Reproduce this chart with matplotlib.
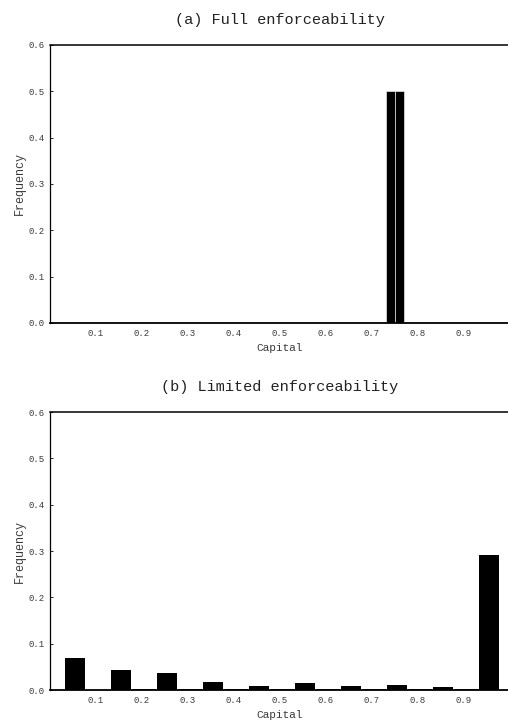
import matplotlib
matplotlib.use("Agg")
import matplotlib.pyplot as plt

# panel (a): full enforceability
full_left = [0.730, 0.750]
full_freq = [0.50, 0.50]

# panel (b): limited enforceability, main bins
lim_centers = [0.055, 0.155, 0.255, 0.355, 0.455, 0.555, 0.655, 0.755, 0.855, 0.955]
lim_freq = [0.070, 0.043, 0.037, 0.017, 0.009, 0.016, 0.008, 0.011, 0.006, 0.292]
# small in-between bins
mid_centers = [0.105, 0.205, 0.305, 0.405, 0.505, 0.605, 0.705, 0.805, 0.905]
mid_freq = [0.000, 0.002, 0.002, 0.002, 0.002, 0.002, 0.002, 0.002, 0.003]

xticks = [0.1, 0.2, 0.3, 0.4, 0.5, 0.6, 0.7, 0.8, 0.9]
yticks = [0.0, 0.1, 0.2, 0.3, 0.4, 0.5, 0.6]

mono = "Liberation Mono"
txt = "#3a3a3a"

fig = plt.figure(figsize=(5.08, 7.23), dpi=100)
ax1 = fig.add_axes([0.0984, 0.5533, 0.905, 0.3845])
ax2 = fig.add_axes([0.0984, 0.0456, 0.905, 0.3845])


def style(ax, title):
    ax.set_xlim(0, 1.0)
    ax.set_ylim(0, 0.6)
    ax.set_xticks(xticks)
    ax.set_xticklabels([f"{t:.1f}" for t in xticks], fontsize=6.5, family=mono, color=txt)
    ax.set_yticks(yticks)
    ax.set_yticklabels([f"{t:.1f}" for t in yticks], fontsize=6.5, family=mono, color=txt)
    ax.tick_params(axis="x", length=0, pad=4)
    ax.tick_params(axis="y", direction="in", length=2, width=0.6, pad=4)
    ax.spines["right"].set_visible(False)
    ax.spines["left"].set_linewidth(0.9)
    ax.spines["top"].set_linewidth(1.1)
    ax.spines["bottom"].set_linewidth(1.3)
    ax.set_xlabel("Capital", fontsize=8, family=mono, color=txt, labelpad=4)
    ax.set_ylabel("Frequency", fontsize=8.5, family=mono, color=txt, labelpad=2)
    ax.set_title(title, fontsize=11, family=mono, color="#222222", pad=15)


ax1.bar(full_left, full_freq, width=0.02, align="edge", color="black",
        edgecolor="white", linewidth=0.4)
style(ax1, "(a) Full enforceability")

ax2.bar(lim_centers, lim_freq, width=0.043, color="black")
ax2.bar(mid_centers, mid_freq, width=0.05, color="black")
style(ax2, "(b) Limited enforceability")

fig.savefig("out.png", dpi=100)
